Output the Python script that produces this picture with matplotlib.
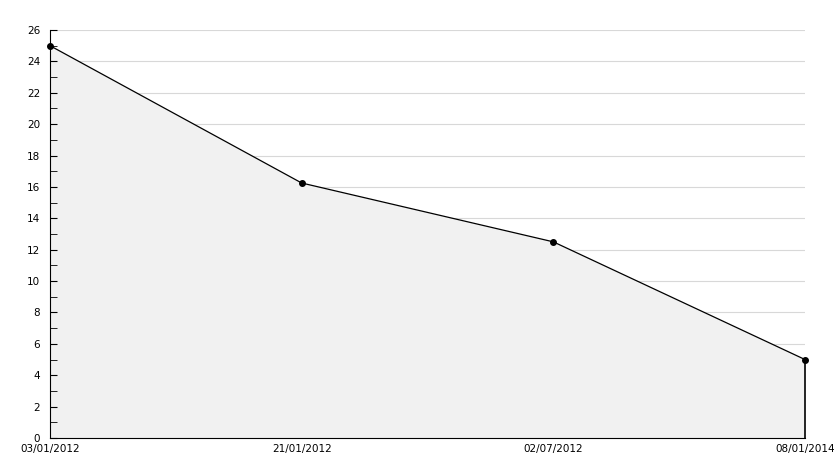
import matplotlib
matplotlib.use("Agg")
import matplotlib.pyplot as plt
import numpy as np

dates = ["03/01/2012", "21/01/2012", "02/07/2012", "08/01/2014"]
values = [25, 16.25, 12.5, 5]
y_ticks = list(range(0, 27, 2))

fig = plt.figure(figsize=(8.34, 4.68), dpi=100)
ax = fig.add_axes([50 / 834, 30 / 468, 755 / 834, 408 / 468])

x = np.arange(len(dates))
# grid sits under the fill, ticks sit above it
for v in y_ticks[1:]:
    ax.axhline(v, color="#d8d8d8", linewidth=0.8, zorder=0.2)
ax.fill_between(x, values, 0, color="#f1f1f1", linewidth=0, zorder=0.5)
ax.plot(x, values, color="black", linewidth=0.9, marker="o", markersize=4,
        clip_on=False, zorder=3)
ax.vlines(x[-1], 0, values[-1], color="black", linewidth=1.2, clip_on=False, zorder=3)

ax.set_xlim(x[0], x[-1])
ax.set_ylim(0, 26)
ax.set_yticks(y_ticks)
ax.set_yticks(range(1, 26, 2), minor=True)
ax.set_xticks(x, dates)
ax.set_axisbelow("line")
for side in ("top", "right"):
    ax.spines[side].set_visible(False)
ax.spines["left"].set_zorder(4)
ax.spines["bottom"].set_zorder(4)
ax.tick_params(axis="y", direction="in", length=5, labelsize=7.5, pad=7)
ax.tick_params(axis="y", which="minor", direction="in", length=5)
ax.tick_params(axis="x", length=0, labelsize=7.5, pad=4)

fig.savefig("out.png", dpi=100)
